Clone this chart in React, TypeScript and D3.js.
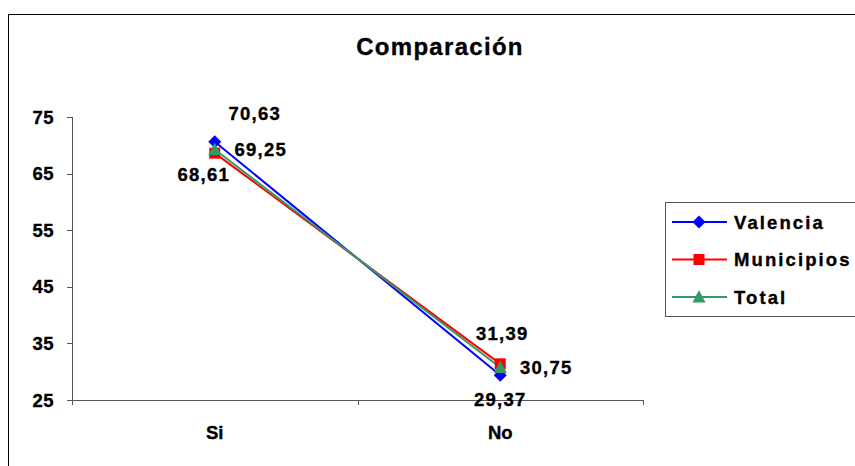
import React from 'react'
import * as d3 from 'd3'

const categories = ['Si', 'No']
const seriesNames = ['Valencia', 'Municipios', 'Total']
const valencia = [70.63, 29.37]
const municipios = [68.61, 31.39]
const total = [69.25, 30.75]
const yTicks = [25, 35, 45, 55, 65, 75]

const colors = ['#0000ff', '#ff0000', '#339966']
// hand placed label offsets (px) per series, per category
const labelOffsets = [
    [[40, -28], [0, 24]],
    [[-11, 21], [2, -30]],
    [[46, 0], [46, 0]],
]

const fmt = (v: number) => v.toFixed(2).replace('.', ',')

const Marker = ({ kind, x, y, color }: { kind: number, x: number, y: number, color: string }) => {
    if (kind === 0) {
        const s = 6.5
        return <path d={`M${x},${y - s}L${x + s},${y}L${x},${y + s}L${x - s},${y}Z`} fill={color} />
    }
    if (kind === 1) {
        return <rect x={x - 5.5} y={y - 5.5} width={11} height={11} fill={color} />
    }
    return <path d={`M${x},${y - 7}L${x + 6.5},${y + 5.5}L${x - 6.5},${y + 5.5}Z`} fill={color} />
}

const App = () => {
    const width = 855
    const height = 466
    const data = [valencia, municipios, total]

    const x = d3.scaleBand<string>().domain(categories).range([72, 643])
    const y = d3.scaleLinear().domain([25, 75]).range([400, 117])
    const cx = (c: string) => (x(c) as number) + x.bandwidth() / 2

    const line = d3.line<number>()
        .x((_, i) => cx(categories[i]))
        .y(d => y(d))

    const font = '"Liberation Sans", Arial, sans-serif'
    const bounds = [72, ...categories.map(c => (x(c) as number) + x.bandwidth())]
    // slight stroke makes the bold text look as heavy as the original
    const heavy = { stroke: '#000', strokeWidth: 0.35 }

    return (
        <div style={{ position: 'absolute', left: 0, top: 0 }}>
            <svg width={width} height={height} style={{ display: 'block' }} fontFamily={font}>
                <rect x={0} y={0} width={width} height={height} fill="white" />
                <rect x={8.5} y={14.5} width={900} height={500} fill="none" stroke="#000" strokeWidth={1} />
                <text x={440} y={55} textAnchor="middle" fontSize={24} fontWeight="bold" letterSpacing={1.3} {...heavy}>Comparación</text>

                {/* y axis */}
                <line x1={72.5} x2={72.5} y1={y(75)} y2={y(25)} stroke="#555" />
                {yTicks.map(t => (
                    <g key={t}>
                        <line x1={67} x2={72.5} y1={Math.round(y(t)) + 0.5} y2={Math.round(y(t)) + 0.5} stroke="#555" />
                        <text x={54} y={y(t)} dy="0.36em" textAnchor="end" fontSize={18.5} fontWeight="bold" letterSpacing={0.5} {...heavy}>{t}</text>
                    </g>
                ))}
                {/* x axis */}
                <line x1={72} x2={643} y1={400.5} y2={400.5} stroke="#555" />
                {bounds.map((b, i) => (
                    <line key={i} x1={Math.round(b) + 0.5} x2={Math.round(b) + 0.5} y1={400} y2={405} stroke="#555" />
                ))}
                {categories.map(c => (
                    <text key={c} x={cx(c)} y={432} dy="0.36em" textAnchor="middle" fontSize={18.5} fontWeight="bold" {...heavy}>{c}</text>
                ))}

                {data.map((s, si) => (
                    <path key={si} d={line(s) as string} fill="none" stroke={colors[si]} strokeWidth={2} />
                ))}
                {data.map((s, si) => s.map((v, ci) => (
                    <Marker key={`${si}-${ci}`} kind={si} x={cx(categories[ci])} y={y(v)} color={colors[si]} />
                )))}
                {data.map((s, si) => s.map((v, ci) => (
                    <text key={`l-${si}-${ci}`}
                          x={cx(categories[ci]) + labelOffsets[si][ci][0]}
                          y={y(v) + labelOffsets[si][ci][1]}
                          dy="0.36em" textAnchor="middle" fontSize={18.5} fontWeight="bold" letterSpacing={1.2} {...heavy}>
                        {fmt(v)}
                    </text>
                )))}

                {/* legend */}
                <rect x={665.5} y={202.5} width={200} height={114} fill="white" stroke="#555" />
                {seriesNames.map((n, i) => {
                    const ly = 222 + i * 37.5
                    return (
                        <g key={n}>
                            <line x1={672} x2={727} y1={ly} y2={ly} stroke={colors[i]} strokeWidth={2} />
                            <Marker kind={i} x={699} y={ly} color={colors[i]} />
                            <text x={734} y={ly} dy="0.36em" fontSize={18.5} fontWeight="bold" letterSpacing={2.1} {...heavy}>{n}</text>
                        </g>
                    )
                })}
            </svg>
        </div>
    )
}

export default App
